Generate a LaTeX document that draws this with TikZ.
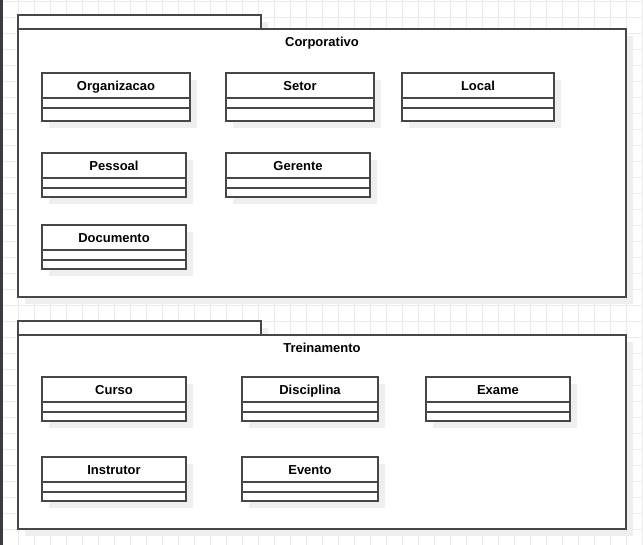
\documentclass[tikz,border=0pt]{standalone}
\usepackage{fontspec}
\setmainfont{Liberation Sans}
\definecolor{gridc}{HTML}{EBEBEB}
\definecolor{shadc}{HTML}{EFEFEF}
\definecolor{linec}{HTML}{474747}
\definecolor{leftc}{HTML}{383D42}
\tikzset{
  gridline/.style={draw=gridc, line width=0.8pt},
  clshead/.style={draw=linec, fill=white, line width=1.1pt, inner sep=0pt, outer sep=0pt, minimum height=25pt,
    text height=9.4pt, text depth=0pt,
    font=\bfseries\fontsize{13}{15}\selectfont, text=black},
  clscomp/.style={draw=linec, fill=white, line width=1.1pt, inner sep=0pt, outer sep=0pt},
  pkgbody/.style={draw=linec, fill=white, line width=1.2pt, inner sep=0pt, outer sep=0pt},
  pkgtab/.style={draw=linec, fill=white, line width=1.2pt, inner sep=0pt, outer sep=0pt},
  pkgtitle/.style={font=\bfseries\fontsize{13}{15}\selectfont, text=black, inner sep=0pt,
    text height=9.4pt, text depth=0pt},
  shadowfill/.style={fill=shadc}
}
\newcommand\umlclass[6]{%
  \fill[shadowfill] (#2+7,#3+7) rectangle (#2+#4+7,#3+35+#5+7);
  \node[clshead, minimum width=#4 pt, anchor=north west] (#1) at (#2,#3) {#6};
  \node[clscomp, minimum width=#4 pt, minimum height=10pt, anchor=north] (#1A) at (#1.south) {};
  \node[clscomp, minimum width=#4 pt, minimum height=#5 pt, anchor=north] (#1B) at (#1A.south) {};
}
\begin{document}
\begin{tikzpicture}[x=1pt, y=-1pt]
\useasboundingbox (0,0) rectangle (643,545);
\fill[white] (0,0) rectangle (643,545);
% grid
\foreach \gx in {2,18,...,642} \draw[gridline] (\gx,0) -- (\gx,545);
\foreach \gy in {1,17,...,545} \draw[gridline] (0,\gy) -- (643,\gy);
% left edge line
\fill[leftc] (0,0) rectangle (2.5,545);

% package Corporativo
\fill[shadowfill] (25,22) rectangle (268,36);
\fill[shadowfill] (25,36) rectangle (633,304);
\node[pkgbody, minimum width=608pt, minimum height=268pt, anchor=north west] (corp) at (18,29) {};
\node[pkgtab, minimum width=243pt, minimum height=14pt, anchor=south west] (corpTab) at (corp.north west) {};
\node[pkgtitle] (corpTitle) at ([shift={(0,13)}]corp.north) {Corporativo};

% package Treinamento
\fill[shadowfill] (25,328) rectangle (268,342);
\fill[shadowfill] (25,342) rectangle (633,536);
\node[pkgbody, minimum width=608pt, minimum height=194pt, anchor=north west] (trein) at (18,335) {};
\node[pkgtab, minimum width=243pt, minimum height=14pt, anchor=south west] (treinTab) at (trein.north west) {};
\node[pkgtitle] (treinTitle) at ([shift={(0,13)}]trein.north) {Treinamento};

% classes Corporativo
\umlclass{org}{42}{73}{148}{13}{Organizacao}
\umlclass{setor}{226}{73}{148}{13}{Setor}
\umlclass{local}{402}{73}{152}{13}{Local}
\umlclass{pessoal}{42}{153}{144}{9}{Pessoal}
\umlclass{gerente}{226}{153}{144}{9}{Gerente}
\umlclass{documento}{42}{225}{144}{9}{Documento}

% classes Treinamento
\umlclass{curso}{42}{377}{144}{9}{Curso}
\umlclass{disciplina}{242}{377}{136}{9}{Disciplina}
\umlclass{exame}{426}{377}{144}{9}{Exame}
\umlclass{instrutor}{42}{457}{144}{9}{Instrutor}
\umlclass{evento}{242}{457}{136}{9}{Evento}
\end{tikzpicture}
\end{document}
